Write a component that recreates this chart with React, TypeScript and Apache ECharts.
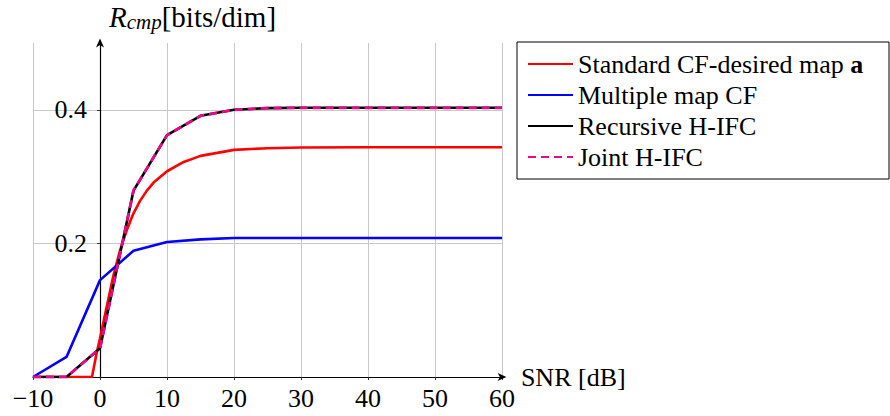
import React, { useEffect, useRef } from "react";
import * as echarts from "echarts";

// SNR grid (dB) shared by the piecewise-linear curves
const snrCoarse = [-10, -5, 0, 5, 10, 15, 20, 25, 30, 35, 40, 45, 50, 55, 60];

const multipleMapCF = [0, 0.03, 0.145, 0.189, 0.202, 0.206, 0.208, 0.208, 0.208, 0.208, 0.208, 0.208, 0.208, 0.208, 0.208];
const recursiveHIFC = [0, 0, 0.043, 0.279, 0.362, 0.391, 0.4, 0.4025, 0.403, 0.403, 0.403, 0.403, 0.403, 0.403, 0.403];
const jointHIFC = [0, 0, 0.043, 0.279, 0.362, 0.391, 0.4, 0.4025, 0.403, 0.403, 0.403, 0.403, 0.403, 0.403, 0.403];

// Standard CF is sampled more finely (smooth curve)
const snrFine = [-10, -5, -1.2, -0.5, 0, 1, 2, 3, 4, 5, 6, 7, 8, 10, 12.5, 15, 20, 25, 30, 40, 50, 60];
const standardCF = [0, 0, 0, 0.036, 0.058, 0.105, 0.152, 0.19, 0.22, 0.245, 0.264, 0.279, 0.291, 0.308, 0.322, 0.331, 0.34, 0.3425, 0.3435, 0.344, 0.344, 0.344];

const seriesNames = ["Standard CF-desired map a", "Multiple map CF", "Recursive H-IFC", "Joint H-IFC"];

const FONT = "Liberation Serif";
const ARROW = "path://M5,0 L10,11 L5,8 L0,11 Z";

const pair = (xs: number[], ys: number[]) => xs.map((x, i) => [x, ys[i]]);

export default function App() {
  const ref = useRef<HTMLDivElement>(null);

  useEffect(() => {
    if (!ref.current) return;
    const chart = echarts.init(ref.current, null, { renderer: "svg" });

    const lineSeries = (name: string, data: number[][], color: string, extra: any = {}) => ({
      name,
      type: "line",
      data,
      showSymbol: false,
      symbol: "none",
      lineStyle: { color, width: 2.6, ...(extra.lineStyle || {}) },
      itemStyle: { color },
      z: extra.z ?? 2,
    });

    chart.setOption({
      animation: false,
      backgroundColor: "#ffffff",
      grid: { left: 33, right: 388, top: 43, bottom: 39, containLabel: false, outerBoundsMode: "none" },
      xAxis: {
        type: "value",
        min: -10,
        max: 60,
        interval: 10,
        name: "SNR [dB]",
        nameLocation: "end",
        nameGap: 9,
        nameTextStyle: { fontFamily: FONT, fontSize: 26, color: "#000", verticalAlign: "middle" },
        axisLine: {
          show: true,
          onZero: true,
          symbol: ["none", ARROW],
          symbolSize: [8, 9],
          lineStyle: { color: "#000", width: 1.2 },
        },
        axisTick: { show: true, length: 3, lineStyle: { color: "#333" } },
        axisLabel: {
          fontFamily: FONT,
          fontSize: 26,
          color: "#000",
          margin: 8,
          formatter: (v: number) => (v < 0 ? "\u2212" + Math.abs(v) : String(v)),
        },
        splitLine: { show: true, lineStyle: { color: "#c8c8c8", width: 1 } },
      },
      yAxis: {
        type: "value",
        min: 0,
        max: 0.5,
        interval: 0.2,
        // shift the vertical axis onto SNR = 0 (10 of 70 units from the left edge)
        offset: -67,
        axisLine: {
          show: true,
          onZero: false,
          symbol: ["none", ARROW],
          symbolSize: [8, 9],
          lineStyle: { color: "#000", width: 1.2 },
        },
        axisTick: { show: true, length: 3, lineStyle: { color: "#333" } },
        axisLabel: {
          fontFamily: FONT,
          fontSize: 26,
          color: "#000",
          margin: 13,
          showMinLabel: false,
          showMaxLabel: false,
          formatter: (v: number) => v.toFixed(1),
        },
        splitLine: {
          show: true,
          showMinLine: false,
          showMaxLine: false,
          lineStyle: { color: "#c8c8c8", width: 1 },
        },
      },
      legend: {
        orient: "vertical",
        left: 517,
        top: 42,
        padding: [9, 8, 9, 10],
        itemWidth: 45,
        itemHeight: 14,
        itemGap: 5,
        borderColor: "#000",
        borderWidth: 1,
        backgroundColor: "#fff",
        // line samples only, no point markers
        itemStyle: { opacity: 0, borderWidth: 0 },
        data: seriesNames,
        formatter: (name: string) =>
          name === seriesNames[0] ? "{n|Standard CF-desired map }{b|a}" : "{n|" + name + "}",
        textStyle: {
          fontFamily: FONT,
          fontSize: 26,
          color: "#000",
          width: 303,
          lineHeight: 26,
          rich: {
            n: { fontFamily: FONT, fontSize: 26, color: "#000", lineHeight: 26 },
            b: { fontFamily: FONT, fontSize: 26, color: "#000", fontWeight: "bold", lineHeight: 26 },
          },
        },
      },
      graphic: [
        {
          type: "text",
          left: 109,
          top: 2,
          style: {
            text: "{r|R}{s|cmp}{n|[bits/dim]}",
            rich: {
              r: { fontFamily: FONT, fontSize: 29, fontStyle: "italic", lineHeight: 32, verticalAlign: "middle", fill: "#000" },
              s: { fontFamily: FONT, fontSize: 21, fontStyle: "italic", lineHeight: 14, verticalAlign: "bottom", fill: "#000" },
              n: { fontFamily: FONT, fontSize: 29, lineHeight: 32, verticalAlign: "middle", fill: "#000" },
            },
          },
        },
      ],
      series: [
        lineSeries(seriesNames[0], pair(snrFine, standardCF), "#ff0000", { z: 2 }),
        lineSeries(seriesNames[1], pair(snrCoarse, multipleMapCF), "#0000ff", { z: 3 }),
        lineSeries(seriesNames[2], pair(snrCoarse, recursiveHIFC), "#000000", { z: 4 }),
        lineSeries(seriesNames[3], pair(snrCoarse, jointHIFC), "#e8088a", {
          z: 5,
          lineStyle: { type: [8, 5], width: 2.8 },
        }),
      ],
    });

    return () => chart.dispose();
  }, []);

  return <div ref={ref} style={{ width: 890, height: 416, position: "absolute", left: 0, top: 0 }} />;
}
